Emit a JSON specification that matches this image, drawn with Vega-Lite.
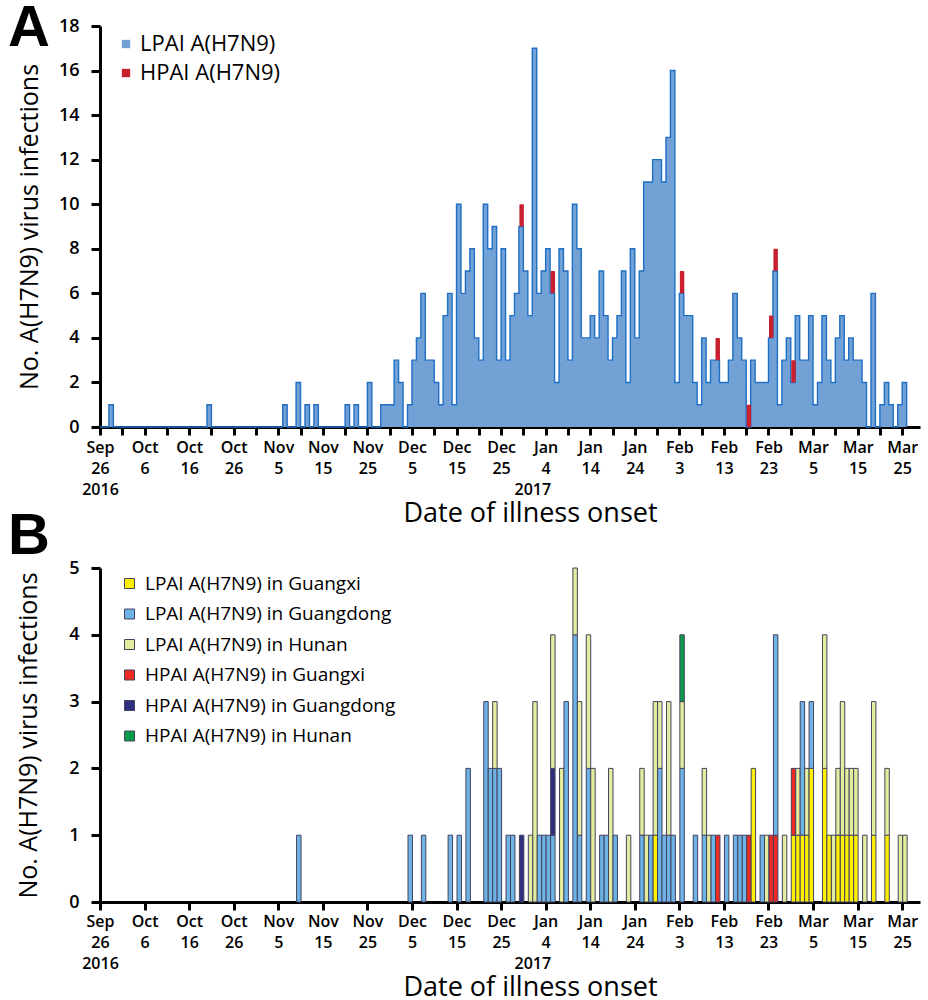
{
  "$schema": "https://vega.github.io/schema/vega-lite/v6.json",
  "background": "white",
  "padding": {"left": 8, "top": 0, "right": 4, "bottom": 0},
  "spacing": -18,
  "resolve": {"scale": {"color": "independent"}, "legend": {"color": "independent"}},
  "datasets": {
    "stackOrder": [
      {"group": "LPAI A(H7N9) in Guangxi", "rank": 1},
      {"group": "HPAI A(H7N9) in Guangxi", "rank": 2},
      {"group": "LPAI A(H7N9) in Guangdong", "rank": 3},
      {"group": "HPAI A(H7N9) in Guangdong", "rank": 4},
      {"group": "LPAI A(H7N9) in Hunan", "rank": 5},
      {"group": "HPAI A(H7N9) in Hunan", "rank": 6}
    ]
  },
  "config": {
    "font": "Open Sans",
    "view": {"stroke": null},
    "axis": {
      "domainColor": "#000", "domainWidth": 3, "tickColor": "#000", "tickWidth": 3, "tickSize": 8, "zindex": 1,
      "labelColor": "#000", "labelFont": "Open Sans", "labelFontSize": 16, "labelFontWeight": 600,
      "titleColor": "#000", "titleFont": "Open Sans", "titleFontSize": 27, "titleFontWeight": "normal",
      "grid": false
    }
  },
  "vconcat": [
    {
      "title": {"text": "A", "font": "Liberation Sans", "fontSize": 58, "fontWeight": "bold", "color": "#000", "anchor": "start", "frame": "group", "offset": 0, "dx": -92, "dy": 87, "baseline": "alphabetic"},
      "width": 820,
      "height": 401,
      "data": {"values": [
        {"date": "2016-09-26", "lpai": 0, "total": 0},
        {"date": "2016-09-28", "lpai": 1, "total": 1},
        {"date": "2016-09-29", "lpai": 0, "total": 0},
        {"date": "2016-10-20", "lpai": 1, "total": 1},
        {"date": "2016-10-21", "lpai": 0, "total": 0},
        {"date": "2016-11-06", "lpai": 1, "total": 1},
        {"date": "2016-11-07", "lpai": 0, "total": 0},
        {"date": "2016-11-09", "lpai": 2, "total": 2},
        {"date": "2016-11-10", "lpai": 0, "total": 0},
        {"date": "2016-11-11", "lpai": 1, "total": 1},
        {"date": "2016-11-12", "lpai": 0, "total": 0},
        {"date": "2016-11-13", "lpai": 1, "total": 1},
        {"date": "2016-11-14", "lpai": 0, "total": 0},
        {"date": "2016-11-20", "lpai": 1, "total": 1},
        {"date": "2016-11-21", "lpai": 0, "total": 0},
        {"date": "2016-11-22", "lpai": 1, "total": 1},
        {"date": "2016-11-23", "lpai": 0, "total": 0},
        {"date": "2016-11-25", "lpai": 2, "total": 2},
        {"date": "2016-11-26", "lpai": 0, "total": 0},
        {"date": "2016-11-28", "lpai": 1, "total": 1},
        {"date": "2016-11-29", "lpai": 1, "total": 1},
        {"date": "2016-11-30", "lpai": 1, "total": 1},
        {"date": "2016-12-01", "lpai": 3, "total": 3},
        {"date": "2016-12-02", "lpai": 2, "total": 2},
        {"date": "2016-12-03", "lpai": 0, "total": 0},
        {"date": "2016-12-04", "lpai": 1, "total": 1},
        {"date": "2016-12-05", "lpai": 3, "total": 3},
        {"date": "2016-12-06", "lpai": 4, "total": 4},
        {"date": "2016-12-07", "lpai": 6, "total": 6},
        {"date": "2016-12-08", "lpai": 3, "total": 3},
        {"date": "2016-12-09", "lpai": 3, "total": 3},
        {"date": "2016-12-10", "lpai": 2, "total": 2},
        {"date": "2016-12-11", "lpai": 1, "total": 1},
        {"date": "2016-12-12", "lpai": 5, "total": 5},
        {"date": "2016-12-13", "lpai": 6, "total": 6},
        {"date": "2016-12-14", "lpai": 1, "total": 1},
        {"date": "2016-12-15", "lpai": 10, "total": 10},
        {"date": "2016-12-16", "lpai": 6, "total": 6},
        {"date": "2016-12-17", "lpai": 7, "total": 7},
        {"date": "2016-12-18", "lpai": 8, "total": 8},
        {"date": "2016-12-19", "lpai": 4, "total": 4},
        {"date": "2016-12-20", "lpai": 3, "total": 3},
        {"date": "2016-12-21", "lpai": 10, "total": 10},
        {"date": "2016-12-22", "lpai": 8, "total": 8},
        {"date": "2016-12-23", "lpai": 9, "total": 9},
        {"date": "2016-12-24", "lpai": 3, "total": 3},
        {"date": "2016-12-25", "lpai": 8, "total": 8},
        {"date": "2016-12-26", "lpai": 3, "total": 3},
        {"date": "2016-12-27", "lpai": 5, "total": 5},
        {"date": "2016-12-28", "lpai": 6, "total": 6},
        {"date": "2016-12-29", "lpai": 9, "total": 10},
        {"date": "2016-12-30", "lpai": 7, "total": 7},
        {"date": "2016-12-31", "lpai": 5, "total": 5},
        {"date": "2017-01-01", "lpai": 17, "total": 17},
        {"date": "2017-01-02", "lpai": 6, "total": 6},
        {"date": "2017-01-03", "lpai": 7, "total": 7},
        {"date": "2017-01-04", "lpai": 8, "total": 8},
        {"date": "2017-01-05", "lpai": 6, "total": 7},
        {"date": "2017-01-06", "lpai": 2, "total": 2},
        {"date": "2017-01-07", "lpai": 8, "total": 8},
        {"date": "2017-01-08", "lpai": 7, "total": 7},
        {"date": "2017-01-09", "lpai": 3, "total": 3},
        {"date": "2017-01-10", "lpai": 10, "total": 10},
        {"date": "2017-01-11", "lpai": 8, "total": 8},
        {"date": "2017-01-12", "lpai": 4, "total": 4},
        {"date": "2017-01-13", "lpai": 4, "total": 4},
        {"date": "2017-01-14", "lpai": 5, "total": 5},
        {"date": "2017-01-15", "lpai": 4, "total": 4},
        {"date": "2017-01-16", "lpai": 7, "total": 7},
        {"date": "2017-01-17", "lpai": 5, "total": 5},
        {"date": "2017-01-18", "lpai": 3, "total": 3},
        {"date": "2017-01-19", "lpai": 4, "total": 4},
        {"date": "2017-01-20", "lpai": 5, "total": 5},
        {"date": "2017-01-21", "lpai": 7, "total": 7},
        {"date": "2017-01-22", "lpai": 2, "total": 2},
        {"date": "2017-01-23", "lpai": 8, "total": 8},
        {"date": "2017-01-24", "lpai": 4, "total": 4},
        {"date": "2017-01-25", "lpai": 7, "total": 7},
        {"date": "2017-01-26", "lpai": 11, "total": 11},
        {"date": "2017-01-27", "lpai": 11, "total": 11},
        {"date": "2017-01-28", "lpai": 12, "total": 12},
        {"date": "2017-01-29", "lpai": 12, "total": 12},
        {"date": "2017-01-30", "lpai": 11, "total": 11},
        {"date": "2017-01-31", "lpai": 13, "total": 13},
        {"date": "2017-02-01", "lpai": 16, "total": 16},
        {"date": "2017-02-02", "lpai": 2, "total": 2},
        {"date": "2017-02-03", "lpai": 6, "total": 7},
        {"date": "2017-02-04", "lpai": 5, "total": 5},
        {"date": "2017-02-05", "lpai": 5, "total": 5},
        {"date": "2017-02-06", "lpai": 2, "total": 2},
        {"date": "2017-02-07", "lpai": 1, "total": 1},
        {"date": "2017-02-08", "lpai": 4, "total": 4},
        {"date": "2017-02-09", "lpai": 2, "total": 2},
        {"date": "2017-02-10", "lpai": 3, "total": 3},
        {"date": "2017-02-11", "lpai": 3, "total": 4},
        {"date": "2017-02-12", "lpai": 2, "total": 2},
        {"date": "2017-02-13", "lpai": 2, "total": 2},
        {"date": "2017-02-14", "lpai": 3, "total": 3},
        {"date": "2017-02-15", "lpai": 6, "total": 6},
        {"date": "2017-02-16", "lpai": 4, "total": 4},
        {"date": "2017-02-17", "lpai": 3, "total": 3},
        {"date": "2017-02-18", "lpai": 0, "total": 1},
        {"date": "2017-02-19", "lpai": 3, "total": 3},
        {"date": "2017-02-20", "lpai": 2, "total": 2},
        {"date": "2017-02-21", "lpai": 2, "total": 2},
        {"date": "2017-02-22", "lpai": 2, "total": 2},
        {"date": "2017-02-23", "lpai": 4, "total": 5},
        {"date": "2017-02-24", "lpai": 7, "total": 8},
        {"date": "2017-02-25", "lpai": 1, "total": 1},
        {"date": "2017-02-26", "lpai": 3, "total": 3},
        {"date": "2017-02-27", "lpai": 4, "total": 4},
        {"date": "2017-02-28", "lpai": 2, "total": 3},
        {"date": "2017-03-01", "lpai": 5, "total": 5},
        {"date": "2017-03-02", "lpai": 3, "total": 3},
        {"date": "2017-03-03", "lpai": 3, "total": 3},
        {"date": "2017-03-04", "lpai": 5, "total": 5},
        {"date": "2017-03-05", "lpai": 1, "total": 1},
        {"date": "2017-03-06", "lpai": 2, "total": 2},
        {"date": "2017-03-07", "lpai": 5, "total": 5},
        {"date": "2017-03-08", "lpai": 3, "total": 3},
        {"date": "2017-03-09", "lpai": 2, "total": 2},
        {"date": "2017-03-10", "lpai": 4, "total": 4},
        {"date": "2017-03-11", "lpai": 5, "total": 5},
        {"date": "2017-03-12", "lpai": 3, "total": 3},
        {"date": "2017-03-13", "lpai": 4, "total": 4},
        {"date": "2017-03-14", "lpai": 3, "total": 3},
        {"date": "2017-03-15", "lpai": 3, "total": 3},
        {"date": "2017-03-16", "lpai": 2, "total": 2},
        {"date": "2017-03-17", "lpai": 0, "total": 0},
        {"date": "2017-03-18", "lpai": 6, "total": 6},
        {"date": "2017-03-19", "lpai": 0, "total": 0},
        {"date": "2017-03-20", "lpai": 1, "total": 1},
        {"date": "2017-03-21", "lpai": 2, "total": 2},
        {"date": "2017-03-22", "lpai": 1, "total": 1},
        {"date": "2017-03-23", "lpai": 0, "total": 0},
        {"date": "2017-03-24", "lpai": 1, "total": 1},
        {"date": "2017-03-25", "lpai": 2, "total": 2},
        {"date": "2017-03-26", "lpai": 0, "total": 0}
      ]},
      "encoding": {
        "x": {
          "field": "date", "type": "temporal",
          "scale": {"type": "utc", "domain": [1474848000000, 1490745600000]},
          "axis": {
            "title": "Date of illness onset",
            "values": [1474848000000, 1475280000000, 1475712000000, 1476144000000, 1476576000000, 1477008000000, 1477440000000, 1477872000000, 1478304000000, 1478736000000, 1479168000000, 1479600000000, 1480032000000, 1480464000000, 1480896000000, 1481328000000, 1481760000000, 1482192000000, 1482624000000, 1483056000000, 1483228800000, 1483488000000, 1483920000000, 1484352000000, 1484784000000, 1485216000000, 1485648000000, 1486080000000, 1486512000000, 1486944000000, 1487376000000, 1487808000000, 1488240000000, 1488672000000, 1489104000000, 1489536000000, 1489968000000, 1490400000000],
            "labelExpr": "time(datum.value) == 1483228800000 ? ['\u200b', '\u200b', '2017'] : (((time(datum.value) - 1474848000000) / 432000000) % 2 == 0 ? (time(datum.value) == 1474848000000 ? [utcFormat(datum.value, '%b'), utcFormat(datum.value, '%-d'), '2016'] : [utcFormat(datum.value, '%b'), utcFormat(datum.value, '%-d')]) : '')",
            "labelOverlap": false, "labelBound": false, "labelFlush": false,
            "labelLineHeight": 21, "labelPadding": 4,
            "tickOpacity": {"condition": {"test": "time(datum.value) == 1483228800000", "value": 0}, "value": 1},
            "titlePadding": 3, "titleX": 430
          }
        }
      },
      "layer": [
        {
          "mark": {"type": "area", "interpolate": "step-after", "opacity": 1},
          "encoding": {
            "y": {"field": "lpai", "type": "quantitative", "scale": {"domain": [0, 18], "nice": false},
              "axis": {"title": "No. A(H7N9) virus infections", "values": [0, 2, 4, 6, 8, 10, 12, 14, 16, 18], "tickSize": 9, "labelPadding": 12, "labelFontSize": 18, "titlePadding": 16, "titleFontSize": 25}},
            "color": {"datum": "LPAI A(H7N9)", "type": "nominal",
              "scale": {"domain": ["LPAI A(H7N9)", "HPAI A(H7N9)"], "range": ["#72a1d6", "#c8202e"]},
              "legend": {"orient": "none", "legendX": 15, "legendY": 7, "title": null, "symbolType": "square", "symbolSize": 70, "symbolOpacity": 1, "symbolStrokeWidth": 0, "labelFontSize": 22, "labelFont": "Open Sans", "labelColor": "#000", "labelLimit": 400, "rowPadding": 7, "labelOffset": 3, "padding": 0}}
          }
        },
        {
          "mark": {"type": "line", "interpolate": "step-after", "color": "#1f6fc5", "strokeWidth": 1.4},
          "encoding": {"y": {"field": "lpai", "type": "quantitative"}}
        },
        {
          "transform": [{"filter": "datum.total > datum.lpai"}],
          "mark": {"type": "bar", "cornerRadius": 1, "binSpacing": 0},
          "encoding": {
            "x": {"field": "date", "timeUnit": "utcyearmonthdate", "type": "temporal", "title": "Date of illness onset"},
            "y": {"field": "lpai", "type": "quantitative"},
            "y2": {"field": "total"},
            "color": {"datum": "HPAI A(H7N9)", "type": "nominal",
              "legend": {"orient": "none", "legendX": 15, "legendY": 7, "title": null, "symbolType": "square", "symbolSize": 70, "symbolOpacity": 1, "symbolStrokeWidth": 0, "labelFontSize": 22, "labelFont": "Open Sans", "labelColor": "#000", "labelLimit": 400, "rowPadding": 7, "labelOffset": 3, "padding": 0}}
          }
        }
      ]
    },
    {
      "title": {"text": "B", "font": "Liberation Sans", "fontSize": 58, "fontWeight": "bold", "color": "#000", "anchor": "start", "frame": "group", "offset": 0, "dx": -92, "dy": 53, "baseline": "alphabetic"},
      "width": 820,
      "height": 334,
      "data": {"values": [
        {"date": "2016-11-09", "group": "LPAI A(H7N9) in Guangdong", "n": 1},
        {"date": "2016-12-04", "group": "LPAI A(H7N9) in Guangdong", "n": 1},
        {"date": "2016-12-07", "group": "LPAI A(H7N9) in Guangdong", "n": 1},
        {"date": "2016-12-13", "group": "LPAI A(H7N9) in Guangdong", "n": 1},
        {"date": "2016-12-15", "group": "LPAI A(H7N9) in Guangdong", "n": 1},
        {"date": "2016-12-17", "group": "LPAI A(H7N9) in Guangdong", "n": 2},
        {"date": "2016-12-21", "group": "LPAI A(H7N9) in Guangdong", "n": 3},
        {"date": "2016-12-22", "group": "LPAI A(H7N9) in Guangdong", "n": 2},
        {"date": "2016-12-23", "group": "LPAI A(H7N9) in Guangdong", "n": 2},
        {"date": "2016-12-23", "group": "LPAI A(H7N9) in Hunan", "n": 1},
        {"date": "2016-12-24", "group": "LPAI A(H7N9) in Guangdong", "n": 2},
        {"date": "2016-12-26", "group": "LPAI A(H7N9) in Guangdong", "n": 1},
        {"date": "2016-12-27", "group": "LPAI A(H7N9) in Guangdong", "n": 1},
        {"date": "2016-12-29", "group": "HPAI A(H7N9) in Guangdong", "n": 1},
        {"date": "2016-12-31", "group": "LPAI A(H7N9) in Hunan", "n": 1},
        {"date": "2017-01-01", "group": "LPAI A(H7N9) in Hunan", "n": 3},
        {"date": "2017-01-02", "group": "LPAI A(H7N9) in Guangdong", "n": 1},
        {"date": "2017-01-03", "group": "LPAI A(H7N9) in Guangdong", "n": 1},
        {"date": "2017-01-04", "group": "LPAI A(H7N9) in Guangdong", "n": 1},
        {"date": "2017-01-05", "group": "LPAI A(H7N9) in Guangdong", "n": 1},
        {"date": "2017-01-05", "group": "HPAI A(H7N9) in Guangdong", "n": 1},
        {"date": "2017-01-05", "group": "LPAI A(H7N9) in Hunan", "n": 2},
        {"date": "2017-01-07", "group": "LPAI A(H7N9) in Hunan", "n": 2},
        {"date": "2017-01-08", "group": "LPAI A(H7N9) in Guangdong", "n": 3},
        {"date": "2017-01-10", "group": "LPAI A(H7N9) in Guangdong", "n": 4},
        {"date": "2017-01-10", "group": "LPAI A(H7N9) in Hunan", "n": 1},
        {"date": "2017-01-11", "group": "LPAI A(H7N9) in Guangdong", "n": 1},
        {"date": "2017-01-11", "group": "LPAI A(H7N9) in Hunan", "n": 2},
        {"date": "2017-01-13", "group": "LPAI A(H7N9) in Guangdong", "n": 2},
        {"date": "2017-01-13", "group": "LPAI A(H7N9) in Hunan", "n": 2},
        {"date": "2017-01-14", "group": "LPAI A(H7N9) in Hunan", "n": 2},
        {"date": "2017-01-16", "group": "LPAI A(H7N9) in Guangdong", "n": 1},
        {"date": "2017-01-17", "group": "LPAI A(H7N9) in Guangdong", "n": 1},
        {"date": "2017-01-18", "group": "LPAI A(H7N9) in Hunan", "n": 2},
        {"date": "2017-01-19", "group": "LPAI A(H7N9) in Guangdong", "n": 1},
        {"date": "2017-01-22", "group": "LPAI A(H7N9) in Hunan", "n": 1},
        {"date": "2017-01-25", "group": "LPAI A(H7N9) in Guangdong", "n": 1},
        {"date": "2017-01-25", "group": "LPAI A(H7N9) in Hunan", "n": 1},
        {"date": "2017-01-26", "group": "LPAI A(H7N9) in Hunan", "n": 1},
        {"date": "2017-01-27", "group": "LPAI A(H7N9) in Guangdong", "n": 1},
        {"date": "2017-01-28", "group": "LPAI A(H7N9) in Guangxi", "n": 1},
        {"date": "2017-01-28", "group": "LPAI A(H7N9) in Hunan", "n": 2},
        {"date": "2017-01-29", "group": "LPAI A(H7N9) in Guangdong", "n": 2},
        {"date": "2017-01-29", "group": "LPAI A(H7N9) in Hunan", "n": 1},
        {"date": "2017-01-30", "group": "LPAI A(H7N9) in Guangdong", "n": 1},
        {"date": "2017-01-31", "group": "LPAI A(H7N9) in Guangdong", "n": 1},
        {"date": "2017-01-31", "group": "LPAI A(H7N9) in Hunan", "n": 2},
        {"date": "2017-02-01", "group": "LPAI A(H7N9) in Guangdong", "n": 1},
        {"date": "2017-02-03", "group": "LPAI A(H7N9) in Guangdong", "n": 2},
        {"date": "2017-02-03", "group": "LPAI A(H7N9) in Hunan", "n": 1},
        {"date": "2017-02-03", "group": "HPAI A(H7N9) in Hunan", "n": 1},
        {"date": "2017-02-06", "group": "LPAI A(H7N9) in Guangdong", "n": 1},
        {"date": "2017-02-08", "group": "LPAI A(H7N9) in Guangdong", "n": 1},
        {"date": "2017-02-08", "group": "LPAI A(H7N9) in Hunan", "n": 1},
        {"date": "2017-02-09", "group": "LPAI A(H7N9) in Hunan", "n": 1},
        {"date": "2017-02-10", "group": "LPAI A(H7N9) in Guangdong", "n": 1},
        {"date": "2017-02-11", "group": "HPAI A(H7N9) in Guangxi", "n": 1},
        {"date": "2017-02-13", "group": "LPAI A(H7N9) in Guangdong", "n": 1},
        {"date": "2017-02-15", "group": "LPAI A(H7N9) in Guangdong", "n": 1},
        {"date": "2017-02-16", "group": "LPAI A(H7N9) in Guangdong", "n": 1},
        {"date": "2017-02-17", "group": "LPAI A(H7N9) in Guangdong", "n": 1},
        {"date": "2017-02-18", "group": "HPAI A(H7N9) in Guangxi", "n": 1},
        {"date": "2017-02-19", "group": "LPAI A(H7N9) in Guangxi", "n": 2},
        {"date": "2017-02-21", "group": "LPAI A(H7N9) in Guangdong", "n": 1},
        {"date": "2017-02-22", "group": "LPAI A(H7N9) in Hunan", "n": 1},
        {"date": "2017-02-23", "group": "HPAI A(H7N9) in Guangxi", "n": 1},
        {"date": "2017-02-24", "group": "HPAI A(H7N9) in Guangxi", "n": 1},
        {"date": "2017-02-24", "group": "LPAI A(H7N9) in Guangdong", "n": 3},
        {"date": "2017-02-26", "group": "LPAI A(H7N9) in Hunan", "n": 1},
        {"date": "2017-02-28", "group": "LPAI A(H7N9) in Guangxi", "n": 1},
        {"date": "2017-02-28", "group": "HPAI A(H7N9) in Guangxi", "n": 1},
        {"date": "2017-03-01", "group": "LPAI A(H7N9) in Guangxi", "n": 1},
        {"date": "2017-03-01", "group": "LPAI A(H7N9) in Hunan", "n": 1},
        {"date": "2017-03-02", "group": "LPAI A(H7N9) in Guangxi", "n": 1},
        {"date": "2017-03-02", "group": "LPAI A(H7N9) in Guangdong", "n": 2},
        {"date": "2017-03-03", "group": "LPAI A(H7N9) in Guangxi", "n": 1},
        {"date": "2017-03-03", "group": "LPAI A(H7N9) in Hunan", "n": 1},
        {"date": "2017-03-04", "group": "LPAI A(H7N9) in Guangxi", "n": 2},
        {"date": "2017-03-04", "group": "LPAI A(H7N9) in Guangdong", "n": 1},
        {"date": "2017-03-07", "group": "LPAI A(H7N9) in Guangxi", "n": 2},
        {"date": "2017-03-07", "group": "LPAI A(H7N9) in Hunan", "n": 2},
        {"date": "2017-03-08", "group": "LPAI A(H7N9) in Guangxi", "n": 1},
        {"date": "2017-03-09", "group": "LPAI A(H7N9) in Hunan", "n": 1},
        {"date": "2017-03-10", "group": "LPAI A(H7N9) in Guangxi", "n": 1},
        {"date": "2017-03-10", "group": "LPAI A(H7N9) in Hunan", "n": 1},
        {"date": "2017-03-11", "group": "LPAI A(H7N9) in Guangxi", "n": 1},
        {"date": "2017-03-11", "group": "LPAI A(H7N9) in Hunan", "n": 2},
        {"date": "2017-03-12", "group": "LPAI A(H7N9) in Guangxi", "n": 1},
        {"date": "2017-03-12", "group": "LPAI A(H7N9) in Hunan", "n": 1},
        {"date": "2017-03-13", "group": "LPAI A(H7N9) in Guangxi", "n": 1},
        {"date": "2017-03-13", "group": "LPAI A(H7N9) in Hunan", "n": 1},
        {"date": "2017-03-14", "group": "LPAI A(H7N9) in Guangxi", "n": 1},
        {"date": "2017-03-14", "group": "LPAI A(H7N9) in Hunan", "n": 1},
        {"date": "2017-03-16", "group": "LPAI A(H7N9) in Hunan", "n": 1},
        {"date": "2017-03-18", "group": "LPAI A(H7N9) in Guangxi", "n": 1},
        {"date": "2017-03-18", "group": "LPAI A(H7N9) in Hunan", "n": 2},
        {"date": "2017-03-21", "group": "LPAI A(H7N9) in Guangxi", "n": 1},
        {"date": "2017-03-21", "group": "LPAI A(H7N9) in Hunan", "n": 1},
        {"date": "2017-03-24", "group": "LPAI A(H7N9) in Hunan", "n": 1},
        {"date": "2017-03-25", "group": "LPAI A(H7N9) in Hunan", "n": 1}
      ]},
      "transform": [
        {"lookup": "group", "from": {"data": {"name": "stackOrder"}, "key": "group", "fields": ["rank"]}}
      ],
      "mark": {"type": "bar", "stroke": "#43435e", "strokeWidth": 1, "binSpacing": 0},
      "encoding": {
        "x": {
          "field": "date", "timeUnit": "utcyearmonthdate", "type": "temporal",
          "scale": {"type": "utc", "domain": [1474848000000, 1490745600000]},
          "axis": {
            "title": "Date of illness onset",
            "values": [1474848000000, 1475712000000, 1476576000000, 1477440000000, 1478304000000, 1479168000000, 1480032000000, 1480896000000, 1481760000000, 1482624000000, 1483228800000, 1483488000000, 1484352000000, 1485216000000, 1486080000000, 1486944000000, 1487808000000, 1488672000000, 1489536000000, 1490400000000],
            "labelExpr": "time(datum.value) == 1483228800000 ? ['\u200b', '\u200b', '2017'] : (time(datum.value) == 1474848000000 ? [utcFormat(datum.value, '%b'), utcFormat(datum.value, '%-d'), '2016'] : [utcFormat(datum.value, '%b'), utcFormat(datum.value, '%-d')])",
            "labelOverlap": false, "labelBound": false, "labelFlush": false,
            "labelLineHeight": 21, "labelPadding": 3,
            "tickOpacity": {"condition": {"test": "time(datum.value) == 1483228800000", "value": 0}, "value": 1},
            "titlePadding": 3, "titleX": 430
          }
        },
        "y": {
          "field": "n", "type": "quantitative", "stack": "zero",
          "scale": {"domain": [0, 5], "nice": false},
          "axis": {"title": "No. A(H7N9) virus infections", "values": [0, 1, 2, 3, 4, 5], "tickSize": 9, "labelPadding": 12, "labelFontSize": 18, "titlePadding": 27, "titleFontSize": 25}
        },
        "order": {"field": "rank", "type": "quantitative", "sort": "ascending"},
        "color": {
          "field": "group", "type": "nominal",
          "scale": {
            "domain": ["LPAI A(H7N9) in Guangxi", "LPAI A(H7N9) in Guangdong", "LPAI A(H7N9) in Hunan", "HPAI A(H7N9) in Guangxi", "HPAI A(H7N9) in Guangdong", "HPAI A(H7N9) in Hunan"],
            "range": ["#fff000", "#6db3e6", "#e4ec9e", "#ee2a24", "#2e2f7f", "#0b9a4c"]
          },
          "legend": {"orient": "none", "legendX": 20, "legendY": 6, "title": null, "symbolType": "square", "symbolSize": 100, "symbolStrokeColor": "#43435e", "symbolStrokeWidth": 1, "labelFontSize": 19, "labelFont": "Open Sans", "labelColor": "#000", "labelLimit": 400, "rowPadding": 10.5, "labelOffset": 6, "padding": 0}
        }
      }
    }
  ]
}
